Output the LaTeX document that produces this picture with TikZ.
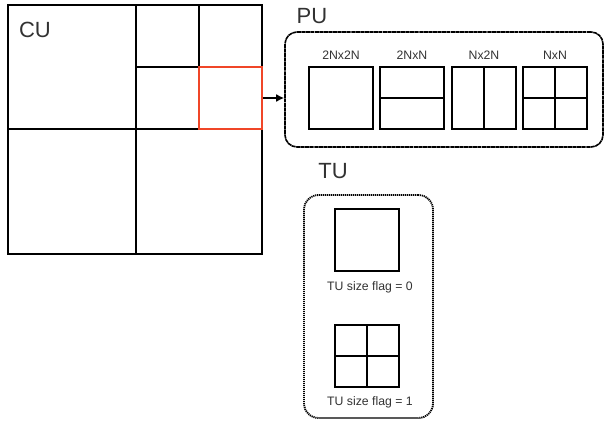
\documentclass[tikz,border=0pt]{standalone}
\usepackage{fontspec}
\setmainfont{Liberation Sans}
\usetikzlibrary{arrows.meta}
\definecolor{redline}{RGB}{240,70,40}
\definecolor{txt}{RGB}{50,50,50}
\begin{document}
\begin{tikzpicture}[x=0.75pt,y=-0.75pt,
  ln/.style={line width=1.3pt,black},
  cell/.style={draw,line width=1.3pt,inner sep=0pt,minimum width=64*0.75pt,minimum height=62*0.75pt},
  big/.style={text=txt,font=\fontsize{16.5}{18}\selectfont,inner sep=0pt},
  small/.style={text=txt,font=\fontsize{9.2}{10}\selectfont,inner sep=0pt},
  pubox/.style={draw,line width=1.2pt,rounded corners=9pt,dash pattern=on 3pt off 0.4pt,inner sep=0pt},
  tubox/.style={draw,line width=1.4pt,rounded corners=11pt,dash pattern=on 0.9pt off 0.6pt,inner sep=0pt}]
\useasboundingbox (0,0) rectangle (605,421);
% CU
\draw[ln] (8,5) rectangle (262,254);
\draw[ln] (136,5) -- (136,254);
\draw[ln] (8,129) -- (262,129);
\draw[ln] (199,5) -- (199,129);
\draw[ln] (136,67) -- (262,67);
\node[draw=redline,line width=1.3pt,inner sep=0pt,minimum width=63*0.75pt,minimum height=62*0.75pt] (red) at (230.5,98) {};
\node[big] (cu) at (35,30) {CU};
% PU
\node[big] (pul) at (312,16) {PU};
\node[pubox,minimum width=318*0.75pt,minimum height=115*0.75pt] (pu) at (444,89.5) {};
\draw[line width=1.5pt,-{Latex[length=6pt,width=6pt]}] (red.east) -- (red.east -| pu.west);
\node[cell] (p1) at (341,98) {};
\node[cell] (p2) at (412,98) {};
\node[cell] (p3) at (484,98) {};
\node[cell] (p4) at (555,98) {};
\draw[ln] (p2.west) -- (p2.east);
\draw[ln] (p3.north) -- (p3.south);
\draw[ln] (p4.west) -- (p4.east);
\draw[ln] (p4.north) -- (p4.south);
\node[small] at (341,55) {2Nx2N};
\node[small] at (412,55) {2NxN};
\node[small] at (484,55) {Nx2N};
\node[small] at (555,55) {NxN};
% TU
\node[big] (tul) at (333,171) {TU};
\node[tubox,minimum width=129*0.75pt,minimum height=223*0.75pt] (tu) at (368.5,306.5) {};
\node[cell] (t1) at (367,240) {};
\node[cell] (t2) at (367,356) {};
\draw[ln] (t2.west) -- (t2.east);
\draw[ln] (t2.north) -- (t2.south);
\node[small] at (370,287) {TU size flag = 0};
\node[small] at (370,402) {TU size flag = 1};
\end{tikzpicture}
\end{document}
